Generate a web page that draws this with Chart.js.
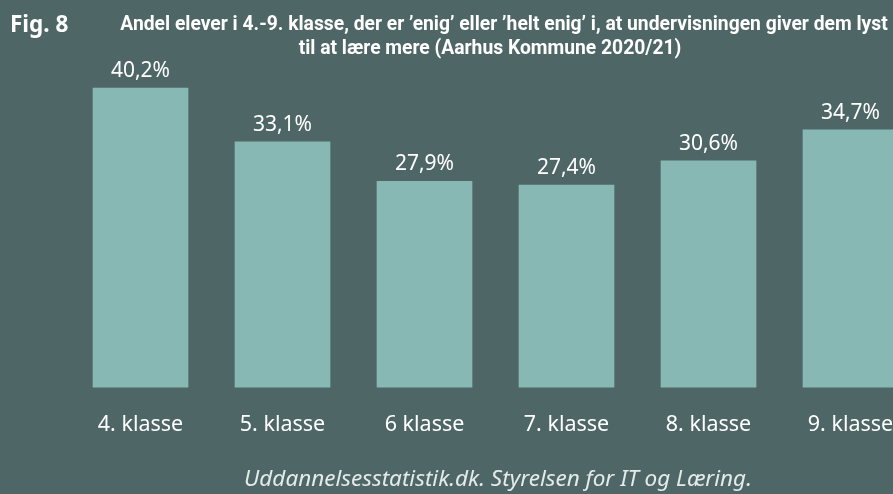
<!DOCTYPE html>
<html>
<head>
<meta charset="utf-8">
<script src="https://cdn.jsdelivr.net/npm/chart.js@4/dist/chart.umd.min.js"></script>
<style>
  html, body { margin: 0; padding: 0; background: #4e6766; overflow: hidden; }
  canvas { display: block; }
</style>
</head>
<body>
<canvas id="shareChart" width="893" height="494"></canvas>
<script>
// ---------- DATA ----------
const classes = ["4. klasse", "5. klasse", "6 klasse", "7. klasse", "8. klasse", "9. klasse"];
const shares = [40.2, 33.1, 27.9, 27.4, 30.6, 34.7];

const figLabel = "Fig. 8";
const titleLines = [
  "Andel elever i 4.-9. klasse, der er ’enig’ eller ’helt enig’ i, at undervisningen giver dem lyst",
  "til at lære mere (Aarhus Kommune 2020/21)"
];
const sourceText = "Uddannelsesstatistik.dk. Styrelsen for IT og Læring.";

const BG = "#4e6766";
const BAR = "#88b8b4";
const FONT = "'Noto Sans', 'Open Sans', sans-serif";

function pct(v) {
  return v.toFixed(1).replace(".", ",") + "%";
}

// ---------- TEXTS AROUND THE BARS ----------
const textPlugin = {
  id: "texts",
  beforeDraw(chart) {
    const ctx = chart.ctx;
    ctx.save();
    ctx.fillStyle = BG;
    ctx.fillRect(0, 0, chart.width, chart.height);
    ctx.restore();
  },
  afterDatasetsDraw(chart) {
    const ctx = chart.ctx;
    const meta = chart.getDatasetMeta(0);
    ctx.save();
    ctx.fillStyle = "#ffffff";
    ctx.font = "21px " + FONT;
    ctx.textAlign = "center";
    ctx.textBaseline = "alphabetic";
    meta.data.forEach((bar, i) => {
      ctx.fillText(pct(shares[i]), bar.x, bar.y - 11);
    });
    ctx.restore();
  },
  afterDraw(chart) {
    const ctx = chart.ctx;
    ctx.save();
    ctx.fillStyle = "#ffffff";
    ctx.textBaseline = "alphabetic";

    ctx.textAlign = "left";
    ctx.font = "bold 22.5px " + FONT;
    ctx.fillText(figLabel, 10, 32);

    ctx.textAlign = "center";
    ctx.font = "bold 19.3px Roboto, " + FONT;
    ctx.fillText(titleLines[0], 504, 30);
    ctx.fillText(titleLines[1], 490, 54);

    ctx.fillStyle = "#e4ebea";
    ctx.font = "italic 22.5px " + FONT;
    ctx.fillText(sourceText, 498, 486);
    ctx.restore();
  }
};

new Chart(document.getElementById("shareChart"), {
  type: "bar",
  data: {
    labels: classes,
    datasets: [{
      data: shares,
      backgroundColor: BAR,
      borderWidth: 0,
      barThickness: 95,
      clip: { left: 60, top: 10, right: 60, bottom: 0 }
    }]
  },
  options: {
    responsive: false,
    animation: false,
    layout: {
      padding: { left: 140.5, right: 42.5, top: 51.6, bottom: 30.8 }
    },
    plugins: {
      legend: { display: false },
      tooltip: { enabled: false }
    },
    scales: {
      x: {
        offset: false,
        grid: { display: false, drawTicks: false },
        border: { display: false },
        ticks: {
          color: "#ffffff",
          font: { family: FONT, size: 21.5 },
          padding: 25,
          autoSkip: false,
          maxRotation: 0
        },
        afterFit(scale) {
          scale.paddingLeft = 0;
          scale.paddingRight = 0;
        }
      },
      y: {
        display: false,
        min: 0.75,
        max: 45
      }
    }
  },
  plugins: [textPlugin]
});
</script>
</body>
</html>
